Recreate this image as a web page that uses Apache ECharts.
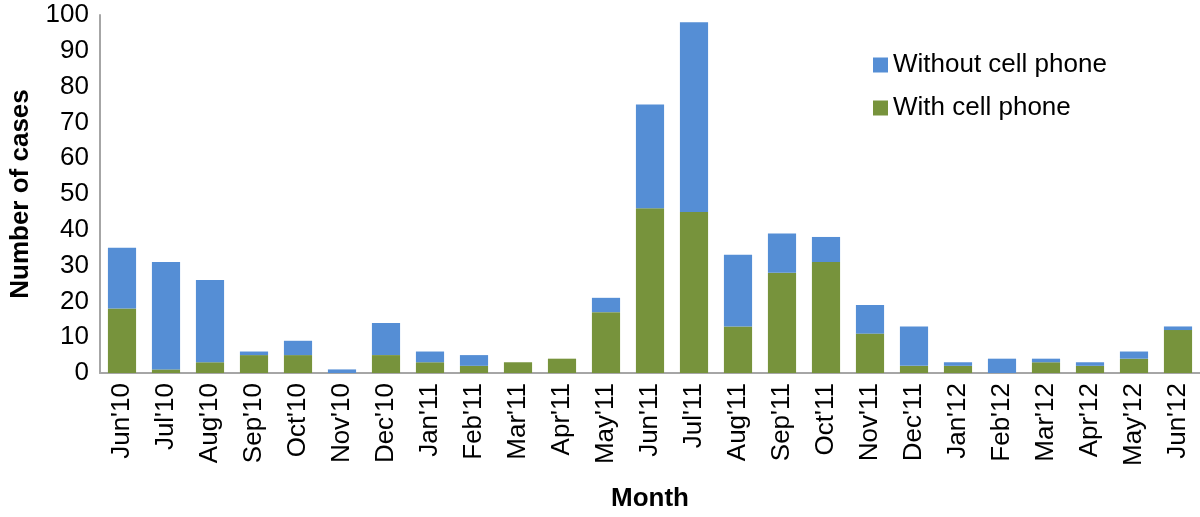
<!DOCTYPE html>
<html>
<head>
<meta charset="utf-8">
<script src="https://cdn.jsdelivr.net/npm/echarts@6/dist/echarts.min.js"></script>
<style>
html,body{margin:0;padding:0;background:#fff;}
#chart{width:1200px;height:517px;}
</style>
</head>
<body>
<div id="chart"></div>
<script>
const categories = ["Jun'10","Jul'10","Aug'10","Sep'10","Oct'10","Nov'10","Dec'10","Jan'11","Feb'11","Mar'11","Apr'11","May'11","Jun'11","Jul'11","Aug'11","Sep'11","Oct'11","Nov'11","Dec'11","Jan'12","Feb'12","Mar'12","Apr'12","May'12","Jun'12"];
const withPhone = [18,1,3,5,5,0,5,3,2,3,4,17,46,45,13,28,31,11,2,2,0,3,2,4,12];
const withoutPhone = [17,30,23,1,4,1,9,3,3,0,0,4,29,53,20,11,7,8,11,1,4,1,1,2,1];

const font = "'Liberation Sans', Arial, Helvetica, sans-serif";
const chart = echarts.init(document.getElementById('chart'), null, {renderer:'canvas'});
chart.setOption({
  animation:false,
  backgroundColor:'#ffffff',
  textStyle:{fontFamily:font},
  grid:{left:92,right:0,top:15,bottom:144,containLabel:false},
  legend:{
    orient:'vertical', left:873, top:52, padding:0,
    itemWidth:15, itemHeight:15, itemGap:17,
    data:['Without cell phone','With cell phone'],
    textStyle:{fontSize:26,color:'#000',fontFamily:font},
    icon:'rect'
  },
  xAxis:{
    type:'category', data:categories,
    axisLine:{show:true,lineStyle:{color:'#A6A6A6',width:2}},
    axisTick:{show:false},
    axisLabel:{rotate:90,fontSize:26,color:'#000',margin:10,interval:0,fontFamily:font},
    name:'Month', nameLocation:'middle', nameGap:113,
    nameTextStyle:{fontSize:26,fontWeight:'bold',color:'#000',fontFamily:font}
  },
  yAxis:{
    type:'value', min:0, max:100, interval:10,
    axisLine:{show:true,lineStyle:{color:'#A6A6A6',width:2}},
    axisTick:{show:false},
    splitLine:{show:false},
    axisLabel:{fontSize:26,color:'#000',margin:11,fontFamily:font},
    name:'Number of cases', nameLocation:'middle', nameGap:66, nameRotate:90,
    nameTextStyle:{fontSize:26,fontWeight:'bold',color:'#000',fontFamily:font}
  },
  series:[
    {name:'With cell phone', type:'bar', stack:'t', data:withPhone,
     barCategoryGap:'36%', itemStyle:{color:'#77933C'}},
    {name:'Without cell phone', type:'bar', stack:'t', data:withoutPhone,
     barCategoryGap:'36%', itemStyle:{color:'#558ED5'}}
  ]
});
</script>
</body>
</html>
